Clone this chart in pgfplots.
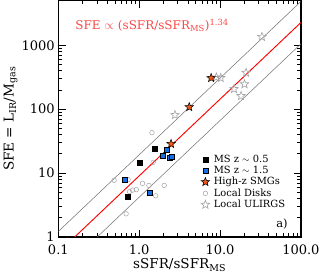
\documentclass[border=0pt]{standalone}
\usepackage{fontspec}
\setmainfont{DejaVu Serif}
\usepackage{pgfplots}
\pgfplotsset{compat=1.18}
\definecolor{sfered}{RGB}{250,70,70}
\definecolor{msblue}{RGB}{20,110,230}
\definecolor{smgorange}{RGB}{240,90,20}
\definecolor{lgray}{RGB}{165,165,165}
\makeatletter
\def\starpath{%
 \pgfpathmoveto{\pgfpointpolar{90}{\pgfplotmarksize}}%
 \pgfpathlineto{\pgfpointpolar{126}{0.42\pgfplotmarksize}}%
 \pgfpathlineto{\pgfpointpolar{162}{\pgfplotmarksize}}%
 \pgfpathlineto{\pgfpointpolar{198}{0.42\pgfplotmarksize}}%
 \pgfpathlineto{\pgfpointpolar{234}{\pgfplotmarksize}}%
 \pgfpathlineto{\pgfpointpolar{270}{0.42\pgfplotmarksize}}%
 \pgfpathlineto{\pgfpointpolar{306}{\pgfplotmarksize}}%
 \pgfpathlineto{\pgfpointpolar{342}{0.42\pgfplotmarksize}}%
 \pgfpathlineto{\pgfpointpolar{18}{\pgfplotmarksize}}%
 \pgfpathlineto{\pgfpointpolar{54}{0.42\pgfplotmarksize}}%
 \pgfpathclose}
\makeatother
\pgfdeclareplotmark{fstar}{\starpath\pgfusepathqfillstroke}
\pgfdeclareplotmark{ostar}{\starpath\pgfusepathqstroke}
\begin{document}
\begin{tikzpicture}
\begin{loglogaxis}[
 scale only axis, width=232bp, height=226bp,
 xmin=0.1, xmax=100, ymin=1, ymax=5000,
 xtick={0.1,1,10,100}, xticklabels={0.1,1.0,10.0,100.0},
 ytick={1,10,100,1000}, yticklabels={1,10,100,1000},
 /pgf/number format/assume math mode=true,
 tick align=inside,
 major tick length=7bp, minor tick length=3.5bp,
 every tick/.style={black, line width=0.6pt},
 axis line style={line width=1.2pt},
 ticklabel style={font=\fontsize{12.5}{13}\selectfont},
 xticklabel style={yshift=-4bp},
 label style={font=\fontsize{13}{13}\selectfont},
 xlabel style={yshift=3bp},
 ylabel style={yshift=-3bp},
 xlabel={sSFR/sSFR\textsubscript{MS}},
 ylabel={SFE = L\textsubscript{IR}/M\textsubscript{gas}},
 legend style={draw=none, fill=none, font=\fontsize{9.5}{10}\selectfont,
   at={(rel axis cs:0.575,0.365)}, anchor=north west, row sep=-1.8pt,
   /tikz/every odd column/.append style={column sep=2pt}},
 legend cell align=left,
]
% relation lines
\addplot[black!55, line width=0.5pt, forget plot] coordinates {(0.1,1.217) (100,4842)};
\addplot[black!55, line width=0.5pt, forget plot] coordinates {(0.1,0.264) (100,1052)};
\addplot[red, line width=0.9pt, forget plot] coordinates {(0.1,0.570) (100,2270)};
% Local disks
\addplot[only marks, mark=o, mark size=2.2pt, lgray, line width=0.5pt, forget plot] coordinates {
(1.44,42.8) (1.49,14.7) (0.49,7.7) (0.73,7.9) (0.76,5.1) (0.83,5.4) (0.92,5.5)
(1.10,6.9) (1.32,6.4) (1.60,4.4) (2.04,6.4) (0.69,2.3)};
% Local ULIRGs
\addplot[only marks, mark=ostar, mark size=4.3pt, lgray, line width=0.6pt, forget plot] coordinates {
(33.0,1355) (9.0,315) (10.2,308) (21.0,372) (20.1,246) (14.9,207) (18.2,161) (2.77,81)};
% MS z~0.5
\addplot[only marks, mark=square*, mark size=2.4pt, black, forget plot] coordinates {
(1.55,24.4) (1.02,14.7) (0.73,4.2)};
% MS z~1.5
\addplot[only marks, mark=square*, mark size=2.4pt, draw=black, fill=msblue, forget plot] coordinates {
(0.67,7.9) (1.34,4.95) (1.94,18.9) (2.16,23.5) (2.36,17.1) (2.51,17.8)};
% High-z SMGs
\addplot[only marks, mark=fstar, mark size=4.3pt, draw=black, fill=smgorange, line width=0.5pt, forget plot] coordinates {
(7.76,308) (4.16,108) (2.48,28.6)};
% legend
\addlegendimage{only marks, mark=square*, mark size=2.4pt, black}
\addlegendentry{MS z $\sim$ 0.5}
\addlegendimage{only marks, mark=square*, mark size=2.4pt, draw=black, fill=msblue}
\addlegendentry{MS z $\sim$ 1.5}
\addlegendimage{only marks, mark=fstar, mark size=4.3pt, draw=black, fill=smgorange, line width=0.5pt}
\addlegendentry{High-z SMGs}
\addlegendimage{only marks, mark=o, mark size=2.2pt, lgray, line width=0.5pt}
\addlegendentry{Local Disks}
\addlegendimage{only marks, mark=ostar, mark size=4.3pt, lgray, line width=0.6pt}
\addlegendentry{Local ULIRGS}
\node[anchor=west, text=sfered, font=\fontsize{11.5}{12}\selectfont] at (rel axis cs:0.055,0.896)
 {SFE $\propto$ (sSFR/sSFR\textsubscript{MS})\textsuperscript{1.34}};
\node[font=\fontsize{11}{11}\selectfont] at (rel axis cs:0.922,0.054) {a)};
\end{loglogaxis}
\end{tikzpicture}
\end{document}
